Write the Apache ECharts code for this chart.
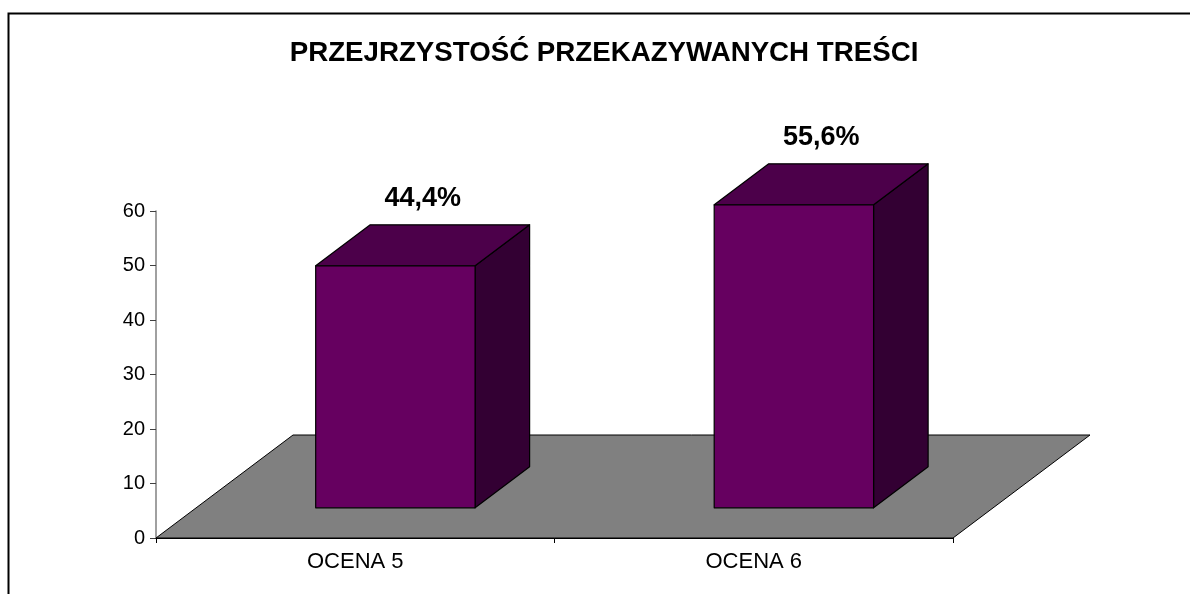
<!DOCTYPE html>
<html>
<head>
<meta charset="utf-8">
<title>Przejrzystość przekazywanych treści</title>
<script src="https://cdn.jsdelivr.net/npm/echarts@6/dist/echarts.min.js"></script>
<style>
  html, body { margin: 0; padding: 0; background: #fff; }
  #chart { width: 1190px; height: 594px; }
</style>
</head>
<body>
<div id="chart"></div>
<script>
const categories = ["OCENA 5", "OCENA 6"];
const values = [44.4, 55.6];
const yTicks = [0, 10, 20, 30, 40, 50, 60];
const titleText = "PRZEJRZYSTOŚĆ PRZEKAZYWANYCH TREŚCI";

const FONT = "Liberation Sans, Arial, sans-serif";
// 3D look: floor depth in pixels, and where the bars sit inside it
const DEPTH_X = 137;
const DEPTH_Y = 103;
const BAR_FRONT = 0.293; // fraction of floor depth
const BAR_BACK = 0.691;
const BAR_WIDTH = 0.4; // fraction of the category band

const chart = echarts.init(document.getElementById("chart"));

function renderFloor(params, api) {
  const cs = params.coordSys;
  const x0 = cs.x, x1 = cs.x + cs.width, y0 = cs.y + cs.height;
  return {
    type: "polygon",
    shape: {
      points: [
        [x0, y0], [x1, y0],
        [x1 + DEPTH_X, y0 - DEPTH_Y], [x0 + DEPTH_X, y0 - DEPTH_Y]
      ]
    },
    style: { fill: "#808080", stroke: "#000", lineWidth: 1 }
  };
}

function renderBar(params, api) {
  const idx = api.value(0);
  const val = api.value(1);
  const base = api.coord([idx, 0]);
  const top = api.coord([idx, val]);
  const w = api.size([1, 0])[0] * BAR_WIDTH;
  const fx = DEPTH_X * BAR_FRONT, fy = DEPTH_Y * BAR_FRONT;
  const dx = DEPTH_X * (BAR_BACK - BAR_FRONT), dy = DEPTH_Y * (BAR_BACK - BAR_FRONT);
  const x0 = base[0] - w / 2 + fx, x1 = base[0] + w / 2 + fx;
  const yb = base[1] - fy, yt = top[1] - fy;
  const edge = { stroke: "#000", lineWidth: 1.2, lineJoin: "round" };
  return {
    type: "group",
    children: [
      {
        type: "polygon",
        shape: { points: [[x1, yt], [x1, yb], [x1 + dx, yb - dy], [x1 + dx, yt - dy]] },
        style: Object.assign({ fill: "#330033" }, edge)
      },
      {
        type: "polygon",
        shape: { points: [[x0, yt], [x1, yt], [x1 + dx, yt - dy], [x0 + dx, yt - dy]] },
        style: Object.assign({ fill: "#4c004a" }, edge)
      },
      {
        type: "rect",
        shape: { x: x0, y: yt, width: x1 - x0, height: yb - yt },
        style: Object.assign({ fill: "#660060" }, edge)
      },
      {
        type: "text",
        x: (x0 + x1 + dx) / 2,
        y: yt - dy - 26,
        style: {
          text: val.toFixed(1).replace(".", ",") + "%",
          font: "bold 27px " + FONT,
          fill: "#000",
          align: "center",
          verticalAlign: "middle"
        }
      }
    ]
  };
}

const option = {
  animation: false,
  backgroundColor: "#fff",
  graphic: [
    {
      type: "rect",
      shape: { x: 8.5, y: 13.5, width: 1200, height: 600 },
      style: { fill: "none", stroke: "#000", lineWidth: 2 },
      z: 100
    },
    {
      type: "text",
      x: 604,
      y: 53,
      style: {
        text: titleText,
        font: "bold 27.7px " + FONT,
        fill: "#000",
        align: "center",
        verticalAlign: "middle"
      }
    }
  ],
  grid: { left: 156, right: 237, top: 211, bottom: 56 },
  xAxis: {
    type: "category",
    data: categories,
    boundaryGap: true,
    axisLine: { show: true, lineStyle: { color: "#000", width: 1 } },
    axisTick: { show: true, length: 5, lineStyle: { color: "#000" } },
    axisLabel: { fontFamily: FONT, fontSize: 22, color: "#000", margin: 13 },
    splitLine: { show: false },
    z: 5
  },
  yAxis: {
    type: "value",
    min: yTicks[0],
    max: yTicks[yTicks.length - 1],
    interval: yTicks[1] - yTicks[0],
    axisLine: { show: true, lineStyle: { color: "#808080", width: 1.5 } },
    axisTick: { show: true, length: 6, lineStyle: { color: "#404040" } },
    axisLabel: { fontFamily: FONT, fontSize: 20, color: "#000", margin: 11 },
    splitLine: { show: false }
  },
  series: [
    {
      type: "custom",
      renderItem: renderFloor,
      data: [[0, 0]],
      z: 1,
      silent: true
    },
    {
      type: "custom",
      renderItem: renderBar,
      data: values.map((v, i) => [i, v]),
      encode: { x: 0, y: 1 },
      z: 10
    }
  ]
};

chart.setOption(option);
window.addEventListener("resize", () => chart.resize());
</script>
</body>
</html>
